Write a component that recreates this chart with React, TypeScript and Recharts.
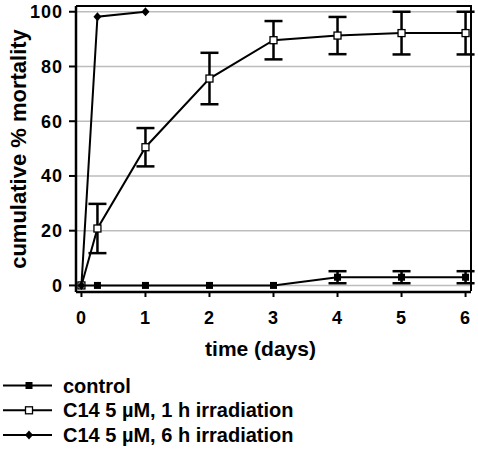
import React from "react";
import {
  ComposedChart,
  Line,
  XAxis,
  YAxis,
  CartesianGrid,
  ErrorBar,
  Label,
} from "recharts";

// time points (days)
const days = [0, 0.25, 1, 2, 3, 4, 5, 6];
const xTicks = [0, 1, 2, 3, 4, 5, 6];
const yTicks = [0, 20, 40, 60, 80, 100];

// cumulative % mortality
const control = [0, 0, 0, 0, 0, 3, 3, 3];
const controlErr = [null, null, null, null, null, 2.2, 2.2, 2.2];
const irr1h = [0, 20.8, 50.5, 75.6, 89.6, 91.3, 92.2, 92.2];
const irr1hErr = [null, 9, 7, 9.4, 7, 6.8, 7.8, 7.8];
const irr6h = [0, 98.2, 100, null, null, null, null, null];

const seriesNames = [
  "control",
  "C14 5 \u00b5M, 1 h irradiation",
  "C14 5 \u00b5M, 6 h irradiation",
];

const data = days.map((d, i) => ({
  day: d,
  control: control[i],
  controlErr: controlErr[i] ?? undefined,
  irr1h: irr1h[i],
  irr1hErr: irr1hErr[i] ?? undefined,
  irr6h: irr6h[i] ?? undefined,
}));

const FONT = "'Liberation Sans', Arial, sans-serif";
const xDomain = [-0.085, 6.085];
const yDomain = [-2.4, 102.1];

// chart layout
const W = 478;
const H = 370;
const margin = { top: 6, right: 7, left: 0, bottom: 0 };
const yAxisWidth = 76;
const xAxisHeight = 78;

function FilledSquare(props: any) {
  const { cx, cy, key } = props;
  if (cx == null || cy == null) return <g key={key} />;
  return <rect key={key} x={cx - 3.5} y={cy - 3.5} width={7} height={7} fill="#000" />;
}

function OpenSquare(props: any) {
  const { cx, cy, key } = props;
  if (cx == null || cy == null) return <g key={key} />;
  return (
    <rect key={key} x={cx - 3.5} y={cy - 3.5} width={7} height={7} fill="#fff" stroke="#000" strokeWidth={1.3} />
  );
}

function Diamond(props: any) {
  const { cx, cy, key } = props;
  if (cx == null || cy == null) return <g key={key} />;
  return (
    <polygon key={key} points={`${cx},${cy - 4.5} ${cx + 4},${cy} ${cx},${cy + 4.5} ${cx - 4},${cy}`} fill="#000" />
  );
}

const markers = [FilledSquare, OpenSquare, Diamond];

function Legend() {
  return (
    <svg width={W} height={80} style={{ position: "absolute", left: 0, top: H }}>
      {seriesNames.map((name, i) => {
        const y = 15.5 + i * 24.8;
        const Marker = markers[i];
        return (
          <g key={name}>
            <line x1={3} x2={52} y1={y} y2={y} stroke="#000" strokeWidth={2} />
            <Marker cx={29} cy={y} />
            <text x={63} y={y} dominantBaseline="central" fontFamily={FONT} fontWeight="bold" fontSize={20} fill="#000">
              {name}
            </text>
          </g>
        );
      })}
    </svg>
  );
}

const tickStyle = { fill: "#000", fontSize: 18, fontWeight: "bold", fontFamily: FONT, letterSpacing: 1 };

export default function App() {
  return (
    <div style={{ position: "absolute", left: 0, top: 0, width: W, height: 453, background: "#fff" }}>
      <ComposedChart width={W} height={H} data={data} margin={margin} style={{ fontFamily: FONT }}>
        <CartesianGrid vertical={false} stroke="#bdbdbd" strokeWidth={1.5} />
        <XAxis
          dataKey="day"
          type="number"
          domain={xDomain}
          ticks={xTicks}
          allowDataOverflow
          height={xAxisHeight}
          axisLine={{ stroke: "#000", strokeWidth: 2.5 }}
          tickLine={{ stroke: "#000", strokeWidth: 2 }}
          tickSize={5}
          tickMargin={14}
          tick={tickStyle}
        >
          <Label
            content={(p: any) => {
              const vb = p.viewBox;
              return (
                <text x={vb.x + vb.width / 2 - 13} y={vb.y + 64} textAnchor="middle" fontFamily={FONT} fontWeight="bold" fontSize={21} fill="#000">
                  time (days)
                </text>
              );
            }}
          />
        </XAxis>
        <YAxis
          type="number"
          domain={yDomain}
          ticks={yTicks}
          allowDataOverflow
          width={yAxisWidth}
          axisLine={{ stroke: "#000", strokeWidth: 2.5 }}
          tickLine={{ stroke: "#000", strokeWidth: 2 }}
          tickSize={7}
          tickMargin={6}
          tick={tickStyle}
        >
          <Label
            content={(p: any) => {
              const vb = p.viewBox;
              const cx = vb.x + 18;
              const cy = vb.y + vb.height / 2;
              return (
                <text x={cx} y={cy} transform={`rotate(-90 ${cx} ${cy})`} textAnchor="middle" dominantBaseline="central" fontFamily={FONT} fontWeight="bold" fontSize={22} fill="#000">
                  cumulative % mortality
                </text>
              );
            }}
          />
        </YAxis>
        <Line dataKey="control" name={seriesNames[0]} stroke="#000" strokeWidth={2} dot={<FilledSquare />} activeDot={false} isAnimationActive={false}>
          <ErrorBar dataKey="controlErr" width={9} stroke="#000" strokeWidth={2.5} />
        </Line>
        <Line dataKey="irr1h" name={seriesNames[1]} stroke="#000" strokeWidth={2} dot={<OpenSquare />} activeDot={false} isAnimationActive={false}>
          <ErrorBar dataKey="irr1hErr" width={9} stroke="#000" strokeWidth={2.5} />
        </Line>
        <Line dataKey="irr6h" name={seriesNames[2]} stroke="#000" strokeWidth={2} dot={<Diamond />} activeDot={false} isAnimationActive={false} />
      </ComposedChart>
      {/* top and right edges of the plot box */}
      <div
        style={{
          position: "absolute",
          left: margin.left + yAxisWidth,
          top: margin.top - 1,
          width: W - margin.left - margin.right - yAxisWidth + 1,
          height: H - margin.top - margin.bottom - xAxisHeight,
          borderTop: "2px solid #000",
          borderRight: "2px solid #000",
          boxSizing: "border-box",
          pointerEvents: "none",
        }}
      />
      <Legend />
    </div>
  );
}
